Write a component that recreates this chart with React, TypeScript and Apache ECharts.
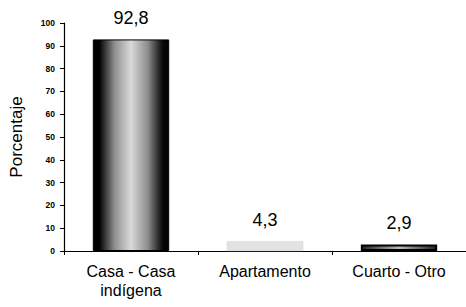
import React, { useEffect, useRef } from "react";
import * as echarts from "echarts";

const categories = ["Casa - Casa\nindígena", "Apartamento", "Cuarto - Otro"];
const values = [92.8, 4.3, 2.9];
const valueLabels = ["92,8", "4,3", "2,9"];

export default function App() {
  const ref = useRef<HTMLDivElement>(null);
  useEffect(() => {
    const chart = echarts.init(ref.current!, null, { renderer: "svg" });
    const grad1 = new echarts.graphic.LinearGradient(0, 0, 1, 0, [
      { offset: 0, color: "#000" },
      { offset: 0.08, color: "#000" },
      { offset: 0.28, color: "#8e8e8e" },
      { offset: 0.5, color: "#dadada" },
      { offset: 0.72, color: "#8e8e8e" },
      { offset: 0.92, color: "#080808" },
      { offset: 1, color: "#000" },
    ]);
    const grad3 = new echarts.graphic.LinearGradient(0, 0, 1, 0, [
      { offset: 0, color: "#222" },
      { offset: 0.5, color: "#bbb" },
      { offset: 1, color: "#222" },
    ]);
    const styles = [
      { color: grad1, borderColor: "#000", borderWidth: 1 },
      { color: "#e2e2e2", borderColor: "#d0d0d0", borderWidth: 0.5 },
      { color: grad3, borderColor: "#000", borderWidth: 2 },
    ];
    const font = "Liberation Sans, Arial, sans-serif";
    chart.setOption({
      animation: false,
      grid: { left: 62, right: -8, top: 23, bottom: 56, containLabel: false },
      xAxis: {
        type: "category",
        data: categories,
        axisLine: { lineStyle: { color: "#000", width: 1.2 } },
        axisTick: { show: true, length: 4, lineStyle: { color: "#000" } },
        axisLabel: {
          color: "#000",
          fontFamily: font,
          fontSize: 16,
          lineHeight: 19,
          margin: 11,
        },
      },
      yAxis: {
        type: "value",
        min: 0,
        max: 100,
        interval: 10,
        name: "Porcentaje",
        nameLocation: "middle",
        nameGap: 39,
        nameTextStyle: { color: "#000", fontFamily: font, fontSize: 17 },
        splitLine: { show: false },
        axisLine: { show: true, lineStyle: { color: "#000", width: 1.2 } },
        axisTick: { show: true, length: 4, inside: false, lineStyle: { color: "#000" } },
        axisLabel: {
          color: "#000",
          fontFamily: font,
          fontSize: 8.5,
          fontWeight: "bold",
          margin: 9,
        },
      },
      series: [
        {
          type: "bar",
          barWidth: "57%",
          data: values.map((v, i) => ({ value: v, itemStyle: styles[i] })),
          label: {
            show: true,
            position: "top",
            distance: 12,
            color: "#000",
            fontFamily: font,
            fontSize: 18,
            formatter: (p: any) => valueLabels[p.dataIndex],
          },
        },
      ],
    });
    return () => chart.dispose();
  }, []);
  return <div ref={ref} style={{ width: 466, height: 307, position: "absolute", left: 0, top: 0, background: "#fff" }} />;
}
